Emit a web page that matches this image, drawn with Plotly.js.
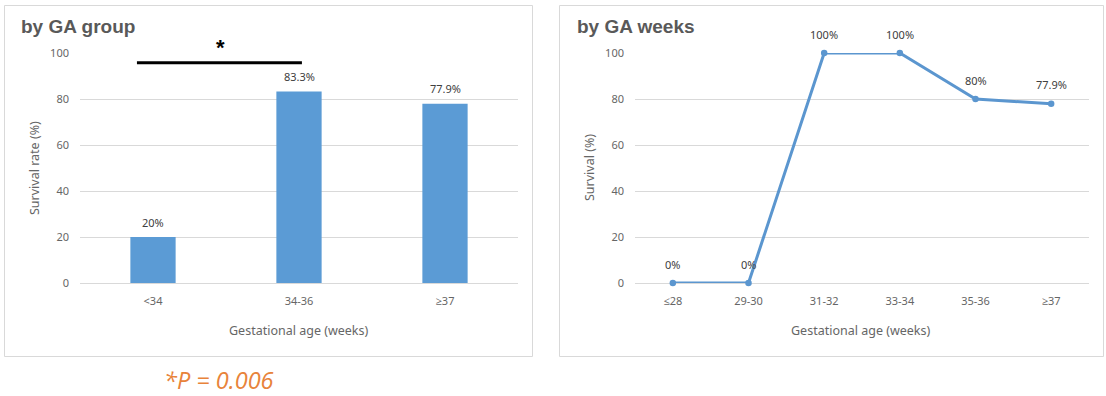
<!DOCTYPE html>
<html>
<head>
<meta charset="utf-8">
<script src="https://cdn.plot.ly/plotly-3.0.1.min.js"></script>
<style>html,body{margin:0;padding:0;background:#fff;}#chart{width:1106px;height:396px;}</style>
</head>
<body>
<div id="chart"></div>
<script>
// ---- data ----
const groupCategories = ['<34', '34-36', '≥37'];
const groupSurvival = [20, 83.3, 77.9];
const groupLabels = ['20%', '83.3%', '77.9%'];

const weekCategories = ['≤28', '29-30', '31-32', '33-34', '35-36', '≥37'];
const weekSurvival = [0, 0, 100, 100, 80, 77.9];
const weekLabels = ['0%', '0%', '100%', '100%', '80%', '77.9%'];

const yTicks = [0, 20, 40, 60, 80, 100];
const pValueText = '*P = 0.006';

// ---- layout helpers ----
const W = 1106, H = 396;
const px = v => v / W;
const py = v => 1 - v / H;

const tickFont = {family: 'Noto Sans, Open Sans, sans-serif', size: 11, color: '#666666'};
const labelFont = {family: 'Noto Sans, Open Sans, sans-serif', size: 11, color: '#404040'};
const gridColor = '#D9D9D9';
const barColor = '#5B9BD5';
const lineColor = '#5B96CF';

const yDomain = [py(283), py(53)];

function yAxis(anchor) {
  return {
    domain: yDomain, range: [0, 100], tickvals: yTicks, ticktext: yTicks.map(String),
    showgrid: true, gridcolor: gridColor, gridwidth: 1, zeroline: true, zerolinecolor: gridColor,
    zerolinewidth: 1, showline: false, ticks: '', tickfont: tickFont, anchor: anchor,
    ticklabelstandoff: 10, fixedrange: true
  };
}
function xAxis(domain, anchor, n) {
  return {
    domain: domain, anchor: anchor, type: 'category', range: [-0.5, n - 0.5],
    showgrid: false, zeroline: false, showline: false, ticks: '', tickfont: tickFont,
    ticklabelstandoff: 10, fixedrange: true
  };
}

const traces = [
  {
    type: 'bar', x: groupCategories, y: groupSurvival, xaxis: 'x', yaxis: 'y',
    marker: {color: barColor}, width: 0.31, hoverinfo: 'x+y', showlegend: false
  },
  {
    type: 'scatter', mode: 'lines+markers', x: weekCategories, y: weekSurvival,
    xaxis: 'x2', yaxis: 'y2', line: {color: lineColor, width: 3},
    marker: {color: lineColor, size: 6.5}, cliponaxis: false, showlegend: false
  }
];

const annotations = [];
groupCategories.forEach((c, i) => annotations.push({
  xref: 'x', yref: 'y', x: c, y: groupSurvival[i], text: groupLabels[i], showarrow: false,
  yanchor: 'middle', yshift: 15, font: labelFont
}));
weekCategories.forEach((c, i) => annotations.push({
  xref: 'x2', yref: 'y2', x: c, y: weekSurvival[i], text: weekLabels[i], showarrow: false,
  yanchor: 'middle', yshift: 19, font: labelFont
}));

const titleFont = {family: 'Liberation Sans, Arial, sans-serif', size: 19, color: '#595959', weight: 'bold'};
const axisTitleFont = {family: 'Noto Sans, Open Sans, sans-serif', size: 12.5, color: '#666666'};

annotations.push(
  {xref: 'paper', yref: 'paper', x: px(19), y: py(27), xanchor: 'left', yanchor: 'middle',
   text: '<b>by GA group</b>', showarrow: false, font: titleFont},
  {xref: 'paper', yref: 'paper', x: px(575), y: py(27), xanchor: 'left', yanchor: 'middle',
   text: '<b>by GA weeks</b>', showarrow: false, font: titleFont},
  {xref: 'paper', yref: 'paper', x: px(34), y: py(168), xanchor: 'center', yanchor: 'middle',
   textangle: -90, text: 'Survival rate (%)', showarrow: false, font: axisTitleFont},
  {xref: 'paper', yref: 'paper', x: px(589), y: py(168), xanchor: 'center', yanchor: 'middle',
   textangle: -90, text: 'Survival (%)', showarrow: false, font: axisTitleFont},
  {xref: 'paper', yref: 'paper', x: px(299), y: py(330), xanchor: 'center', yanchor: 'middle',
   text: 'Gestational age (weeks)', showarrow: false, font: axisTitleFont},
  {xref: 'paper', yref: 'paper', x: px(861), y: py(330), xanchor: 'center', yanchor: 'middle',
   text: 'Gestational age (weeks)', showarrow: false, font: axisTitleFont},
  {xref: 'paper', yref: 'paper', x: px(220), y: py(47), xanchor: 'center', yanchor: 'middle',
   text: '<b>*</b>', showarrow: false, font: {family: 'Liberation Sans, Arial, sans-serif', size: 22, color: '#000000'}},
  {xref: 'paper', yref: 'paper', x: px(219), y: py(380), xanchor: 'center', yanchor: 'middle',
   text: '<i>' + pValueText + '</i>', showarrow: false,
   font: {family: 'Open Sans, Noto Sans, sans-serif', size: 23.5, color: '#E8833A'}}
);

const shapes = [
  {type: 'rect', xref: 'paper', yref: 'paper', x0: px(4.5), x1: px(532.5), y0: py(356.5), y1: py(5.5),
   line: {color: '#D9D9D9', width: 1}, fillcolor: 'rgba(0,0,0,0)', layer: 'below'},
  {type: 'rect', xref: 'paper', yref: 'paper', x0: px(559.5), x1: px(1103.5), y0: py(356.5), y1: py(5.5),
   line: {color: '#D9D9D9', width: 1}, fillcolor: 'rgba(0,0,0,0)', layer: 'below'},
  {type: 'line', xref: 'x', yref: 'y', x0: -0.11, x1: 1.02, y0: 95.8, y1: 95.8,
   line: {color: '#000000', width: 3}}
];

const layout = {
  width: W, height: H, margin: {l: 0, r: 0, t: 0, b: 0},
  paper_bgcolor: '#ffffff', plot_bgcolor: 'rgba(0,0,0,0)',
  showlegend: false, bargap: 0.69,
  xaxis: xAxis([px(80), px(518)], 'y', groupCategories.length),
  yaxis: yAxis('x'),
  xaxis2: xAxis([px(635), px(1089)], 'y2', weekCategories.length),
  yaxis2: yAxis('x2'),
  annotations: annotations, shapes: shapes
};

Plotly.newPlot('chart', traces, layout, {displayModeBar: false, staticPlot: true});
</script>
</body>
</html>
